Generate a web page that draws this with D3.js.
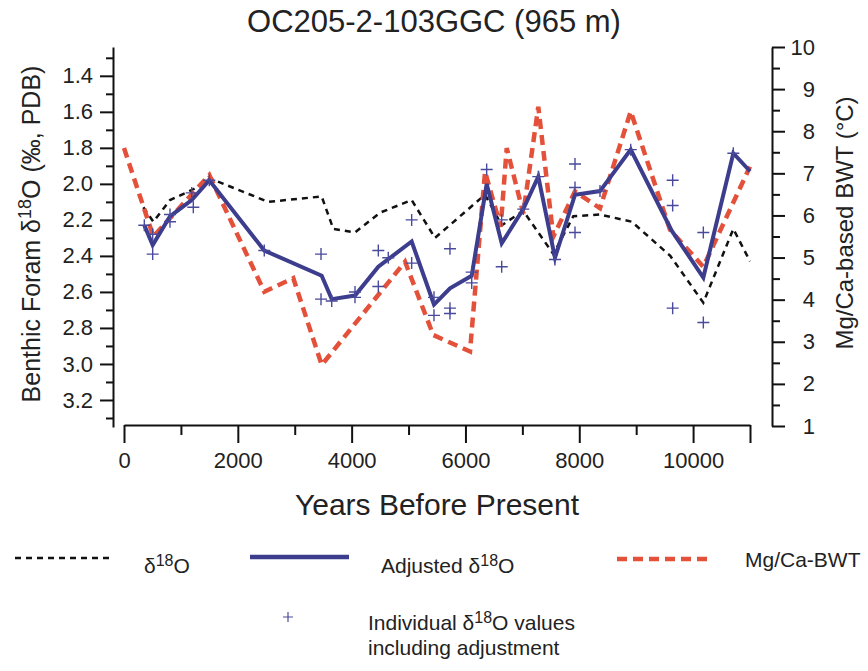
<!DOCTYPE html>
<html>
<head>
<meta charset="utf-8">
<script src="https://cdn.jsdelivr.net/npm/d3@7"></script>
<style>
  body { margin: 0; background: #fff; }
  svg { font-family: "Liberation Sans", Arial, Helvetica, sans-serif; }
  .axis path, .axis line { stroke: #111; stroke-width: 2; }
  .axis text { fill: #222; font-size: 22px; font-family: "Liberation Sans", Arial, sans-serif; }
</style>
</head>
<body>
<script>
// delta18O (raw), left axis
const rawYears = [340, 515, 808, 1218, 1511, 2536, 3474, 3678, 4059, 4498, 5055, 5465, 6344, 6637, 7016, 7544, 7895, 8364, 8921, 9600, 10180, 10707, 11000];
const rawD18O  = [2.13, 2.21, 2.09, 2.03, 1.97, 2.10, 2.07, 2.25, 2.27, 2.16, 2.09, 2.30, 2.06, 2.23, 2.15, 2.39, 2.18, 2.17, 2.21, 2.40, 2.66, 2.25, 2.43];

// adjusted delta18O, left axis
const adjYears = [357, 504, 808, 1190, 1499, 2465, 3474, 3650, 4059, 4469, 5055, 5447, 5728, 6110, 6373, 6637, 7016, 7280, 7573, 7925, 8364, 8904, 9624, 10180, 10707, 11000];
const adjD18O  = [2.23, 2.34, 2.18, 2.09, 1.98, 2.37, 2.51, 2.64, 2.62, 2.46, 2.32, 2.67, 2.58, 2.51, 2.00, 2.33, 2.14, 1.96, 2.41, 2.06, 2.04, 1.81, 2.26, 2.52, 1.83, 1.93];

// Mg/Ca bottom water temperature, right axis
const bwtYears = [0, 515, 1499, 2465, 2975, 3474, 4938, 5435, 6080, 6344, 6619, 6725, 7016, 7280, 7544, 7925, 8364, 8904, 9594, 10180, 11000];
const bwtTemp  = [7.6, 5.5, 6.96, 4.19, 4.51, 2.45, 4.9, 3.16, 2.77, 7.04, 5.73, 7.6, 6.05, 8.58, 5.5, 6.57, 6.17, 8.47, 5.66, 4.78, 7.16];

// individual values
const indYears = [357, 504, 504, 808, 808, 1190, 1218, 1499, 2465, 3462, 3462, 3650, 4059, 4059, 4469, 4469, 4644, 5055, 5055, 5447, 5447, 5728, 5728, 5728, 6110, 6110, 6373, 6637, 6637, 7016, 7280, 7573, 7925, 7925, 7925, 8364, 8904, 9641, 9641, 9641, 10180, 10180, 10707];
const indD18O  = [2.23, 2.28, 2.39, 2.17, 2.21, 2.05, 2.13, 1.98, 2.37, 2.39, 2.64, 2.65, 2.60, 2.63, 2.37, 2.57, 2.41, 2.20, 2.44, 2.63, 2.73, 2.36, 2.69, 2.72, 2.49, 2.55, 1.92, 2.20, 2.46, 2.14, 1.96, 2.42, 1.89, 2.02, 2.27, 2.04, 1.81, 1.98, 2.12, 2.69, 2.27, 2.77, 1.83];

const xTicks = [0, 2000, 4000, 6000, 8000, 10000, 11000];
const xMinor = [1000, 3000, 5000, 7000, 9000];
const leftTicks = [1.4, 1.6, 1.8, 2.0, 2.2, 2.4, 2.6, 2.8, 3.0, 3.2];
const leftMinor = [1.3, 1.5, 1.7, 1.9, 2.1, 2.3, 2.5, 2.7, 2.9, 3.1, 3.3];
const rightTicks = [1, 2, 3, 4, 5, 6, 7, 8, 9, 10];
const rightMinor = [1.5, 2.5, 3.5, 4.5, 5.5, 6.5, 7.5, 8.5, 9.5];

const blue = "#3d3d8e";
const red = "#e4513a";

const W = 868, H = 671;
const svg = d3.select("body").append("svg").attr("width", W).attr("height", H);

const x = d3.scaleLinear().domain([0, 11000]).range([124, 750]);
const yL = d3.scaleLinear().domain([1.24, 3.35]).range([47, 427]);
const yR = d3.scaleLinear().domain([1, 10]).range([426, 47]);

// bottom axis
const gx = svg.append("g").attr("class", "axis").attr("transform", "translate(0,425)");
gx.call(d3.axisBottom(x).tickValues(xTicks).tickSize(18).tickSizeOuter(0).tickPadding(6)
  .tickFormat(d => d == 11000 ? "" : d));
gx.append("g").call(d3.axisBottom(x).tickValues(xMinor).tickSize(10).tickFormat(""))
  .select(".domain").remove();
gx.selectAll(".tick text").attr("dy", null).attr("y", 43);

// left axis
const gl = svg.append("g").attr("class", "axis").attr("transform", "translate(113,0)");
gl.call(d3.axisLeft(yL).tickValues(leftTicks).tickSize(13).tickSizeOuter(0).tickPadding(7)
  .tickFormat(d3.format(".1f")));
gl.append("g").call(d3.axisLeft(yL).tickValues(leftMinor).tickSize(7).tickFormat(""))
  .select(".domain").remove();

// right axis
const gr = svg.append("g").attr("class", "axis").attr("transform", "translate(772,0)");
gr.call(d3.axisRight(yR).tickValues(rightTicks).tickSize(13).tickSizeOuter(0));
gr.append("g").call(d3.axisRight(yR).tickValues(rightMinor).tickSize(8).tickFormat(""))
  .select(".domain").remove();
gr.selectAll(".tick text").attr("text-anchor", "end").attr("x", 43);

// lines
const lineL = d3.line().x(d => x(d[0])).y(d => yL(d[1]));
const lineR = d3.line().x(d => x(d[0])).y(d => yR(d[1]));

svg.append("path")
  .datum(d3.zip(rawYears, rawD18O))
  .attr("d", lineL)
  .attr("fill", "none").attr("stroke", "#111").attr("stroke-width", 2.5)
  .attr("stroke-dasharray", "6,5");

svg.append("path")
  .datum(d3.zip(bwtYears, bwtTemp))
  .attr("d", lineR)
  .attr("fill", "none").attr("stroke", red).attr("stroke-width", 4.5)
  .attr("stroke-dasharray", "10,6");

svg.append("path")
  .datum(d3.zip(adjYears, adjD18O))
  .attr("d", lineL)
  .attr("fill", "none").attr("stroke", blue).attr("stroke-width", 4)
  .attr("stroke-linejoin", "miter");

svg.selectAll(".ind")
  .data(d3.zip(indYears, indD18O))
  .enter().append("path")
  .attr("class", "ind")
  .attr("transform", d => "translate(" + x(d[0]) + "," + yL(d[1]) + ")")
  .attr("d", "M-6,0H6M0,-6V6")
  .attr("stroke", "#4a4a9c").attr("stroke-width", 1.4);

// titles
svg.append("text")
  .attr("x", 434).attr("y", 32)
  .attr("text-anchor", "middle")
  .style("font-size", "31px").style("fill", "#222")
  .text("OC205-2-103GGC (965 m)");

svg.append("text")
  .attr("x", 437).attr("y", 515)
  .attr("text-anchor", "middle")
  .style("font-size", "30px").style("fill", "#222")
  .text("Years Before Present");

const lt = svg.append("text")
  .attr("transform", "translate(40,234) rotate(-90)")
  .attr("text-anchor", "middle")
  .style("font-size", "25px").style("fill", "#222");
lt.append("tspan").text("Benthic Foram \u03b4");
lt.append("tspan").attr("dy", -9).style("font-size", "18px").text("18");
lt.append("tspan").attr("dy", 9).text("O (\u2030, PDB)");

svg.append("text")
  .attr("transform", "translate(853,223) rotate(-90)")
  .attr("text-anchor", "middle")
  .style("font-size", "24px").style("fill", "#222")
  .text("Mg/Ca-based BWT (\u00b0C)");

// legend
const leg = svg.append("g").style("font-size", "21px").style("fill", "#222");

leg.append("line").attr("x1", 15).attr("x2", 112).attr("y1", 558).attr("y2", 558)
  .attr("stroke", "#111").attr("stroke-width", 2.5).attr("stroke-dasharray", "6,5");
leg.append("line").attr("x1", 250).attr("x2", 349).attr("y1", 557).attr("y2", 557)
  .attr("stroke", blue).attr("stroke-width", 4.5);
leg.append("line").attr("x1", 617).attr("x2", 713).attr("y1", 559).attr("y2", 559)
  .attr("stroke", red).attr("stroke-width", 4.5).attr("stroke-dasharray", "10,6");
leg.append("path").attr("transform", "translate(288,617)").attr("d", "M-5,0H5M0,-5V5")
  .attr("stroke", "#4a4a9c").attr("stroke-width", 1.2);

function deltaLabel(g, xx, yy, before, after) {
  const t = g.append("text").attr("x", xx).attr("y", yy);
  t.append("tspan").text(before + "\u03b4");
  t.append("tspan").attr("dy", -7).style("font-size", "16px").text("18");
  t.append("tspan").attr("dy", 7).text("O" + after);
  return t;
}
deltaLabel(leg, 144, 573, "", "");
deltaLabel(leg, 381, 573, "Adjusted ", "");
leg.append("text").attr("x", 745).attr("y", 567).text("Mg/Ca-BWT");
deltaLabel(leg, 368, 630, "Individual ", " values");
leg.append("text").attr("x", 368).attr("y", 655).text("including adjustment");
</script>
</body>
</html>
